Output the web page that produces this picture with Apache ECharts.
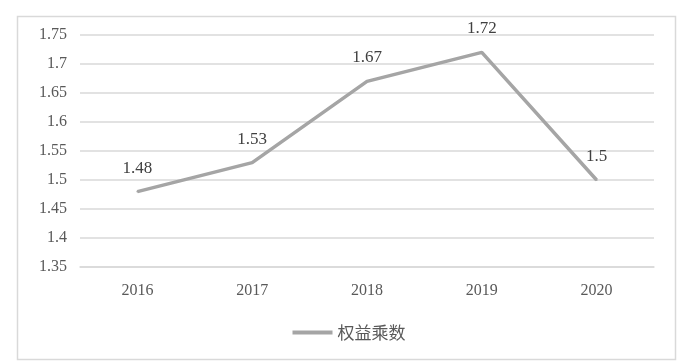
<!DOCTYPE html>
<html><head><meta charset="utf-8">
<script src="https://cdn.jsdelivr.net/npm/echarts@6/dist/echarts.min.js"></script>
<style>html,body{margin:0;padding:0;background:#fff}#c{width:698px;height:361px}</style>
</head><body><div id="c"></div>
<script>
const categories = ['2016','2017','2018','2019','2020'];
const values = [1.48, 1.53, 1.67, 1.72, 1.5];
const seriesName = '权益乘数';
const yMin = 1.35, yMax = 1.75, yStep = 0.05;

const chart = echarts.init(document.getElementById('c'));
const numFont = '"Liberation Serif", "Noto Sans CJK SC", serif';
chart.setOption({
  animation: false,
  backgroundColor: '#fff',
  graphic: [{type:'rect', left:15, top:14, shape:{width:658, height:343}, style:{fill:'none', stroke:'#d9d9d9', lineWidth:1.5}, silent:true}],
  grid: {left: 80, right: 44, top: 35, bottom: 94},
  legend: {
    bottom: 15, left: 'center', itemWidth: 40, itemHeight: 4, icon: 'rect', itemGap: 8,
    data: [seriesName],
    textStyle: {fontSize: 17, color: '#595959', fontFamily: '"Noto Sans CJK SC", serif'}
  },
  xAxis: {
    type: 'category', data: categories, boundaryGap: true,
    axisLine: {lineStyle: {color: '#d9d9d9', width: 1.5}},
    axisTick: {show: false},
    axisLabel: {color: '#595959', fontSize: 16, margin: 16, fontFamily: numFont}
  },
  yAxis: {
    type: 'value', min: yMin, max: yMax, interval: yStep,
    axisLine: {show: false}, axisTick: {show: false},
    splitLine: {lineStyle: {color: '#d9d9d9', width: 1.5}},
    axisLabel: {color: '#595959', fontSize: 16, margin: 13, fontFamily: numFont,
      formatter: v => String(Math.round(v*100)/100)}
  },
  series: [{
    name: seriesName, type: 'line', data: values,
    symbol: 'circle', symbolSize: 2, showSymbol: true,
    lineStyle: {color: '#a5a5a5', width: 3.5},
    itemStyle: {color: '#a5a5a5'},
    label: {show: true, position: 'top', distance: 14, fontSize: 17, color: '#404040', fontFamily: numFont}
  }]
});
</script></body></html>
